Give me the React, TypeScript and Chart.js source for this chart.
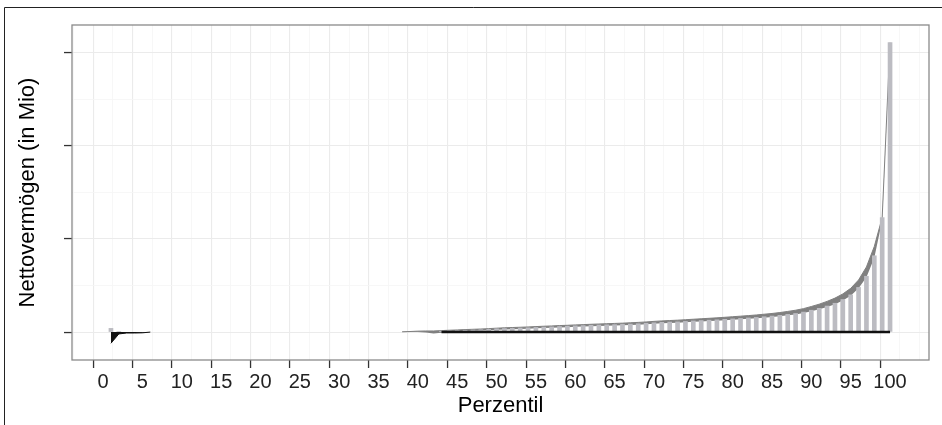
import React, { useEffect, useRef } from 'react';
import { Chart, registerables } from 'chart.js';

Chart.register(...registerables);

// ---- axis ticks ----
const xMajorTicks = [0, 5, 10, 15, 20, 25, 30, 35, 40, 45, 50, 55, 60, 65, 70, 75, 80, 85, 90, 95, 100];
const xMinorTicks = [-2.5, 2.5, 7.5, 12.5, 17.5, 22.5, 27.5, 32.5, 37.5, 42.5, 47.5, 52.5, 57.5, 62.5, 67.5, 72.5, 77.5, 82.5, 87.5, 92.5, 97.5, 102.5];
const yMajorTicks = [0, 1, 2, 3];
const yMinorTicks = [0.5, 1.5, 2.5];

// ---- light grey bars (Nettovermögen per Perzentil, in Mio) ----
const barPercentiles = [1, 2,
  43, 44, 45, 46, 47, 48, 49, 50, 51, 52, 53, 54, 55, 56, 57, 58, 59, 60,
  61, 62, 63, 64, 65, 66, 67, 68, 69, 70, 71, 72, 73, 74, 75, 76, 77, 78, 79, 80,
  81, 82, 83, 84, 85, 86, 87, 88, 89, 90, 91, 92, 93, 94, 95, 96, 97, 98, 99, 100];
const barValues = [0.04, 0.005,
  0.01, 0.012, 0.015, 0.02, 0.022, 0.025, 0.03, 0.035, 0.038, 0.04, 0.043, 0.046, 0.05, 0.053, 0.056, 0.06, 0.063, 0.067,
  0.07, 0.073, 0.076, 0.078, 0.08, 0.083, 0.086, 0.09, 0.095, 0.1, 0.105, 0.108, 0.11, 0.115, 0.12, 0.124, 0.128, 0.132, 0.137, 0.142,
  0.147, 0.152, 0.158, 0.165, 0.172, 0.18, 0.19, 0.2, 0.215, 0.235, 0.255, 0.28, 0.31, 0.35, 0.4, 0.48, 0.6, 0.82, 1.23, 3.11];

// ---- dark grey band ----
const bandPercentiles = [38, 39, 40, 41, 42,
  43, 44, 45, 46, 47, 48, 49, 50, 51, 52, 53, 54, 55, 56, 57, 58, 59, 60,
  61, 62, 63, 64, 65, 66, 67, 68, 69, 70, 71, 72, 73, 74, 75, 76, 77, 78, 79, 80,
  81, 82, 83, 84, 85, 86, 87, 88, 89, 90, 91, 92, 93, 94, 95, 96, 97, 98, 99, 100];
const bandLower = [0, 0, 0, -0.005, -0.014,
  -0.006, 0.0, 0.006, 0.011, 0.013, 0.016, 0.02, 0.025, 0.028, 0.03, 0.033, 0.036, 0.04, 0.043, 0.046, 0.05, 0.053, 0.057,
  0.06, 0.063, 0.066, 0.068, 0.07, 0.073, 0.076, 0.08, 0.085, 0.09, 0.095, 0.098, 0.1, 0.105, 0.11, 0.114, 0.118, 0.122, 0.127, 0.132,
  0.137, 0.142, 0.148, 0.155, 0.162, 0.17, 0.18, 0.19, 0.205, 0.225, 0.245, 0.27, 0.3, 0.34, 0.39, 0.47, 0.59, 0.8, 1.2, 3.11];
const bandUpper = [0.003, 0.006, 0.01, 0.012, 0.012,
  0.016, 0.02, 0.023, 0.027, 0.03, 0.033, 0.037, 0.042, 0.046, 0.049, 0.052, 0.055, 0.059, 0.063, 0.066, 0.07, 0.073, 0.077,
  0.08, 0.084, 0.087, 0.09, 0.093, 0.096, 0.1, 0.104, 0.109, 0.115, 0.12, 0.124, 0.128, 0.133, 0.138, 0.143, 0.148, 0.153, 0.159, 0.165,
  0.171, 0.177, 0.184, 0.192, 0.2, 0.21, 0.222, 0.235, 0.252, 0.275, 0.3, 0.33, 0.365, 0.41, 0.47, 0.56, 0.7, 0.92, 1.23, 3.11];

// ---- black series ----
const negPercentiles = [1, 2, 3, 4, 5, 6];
const negValues = [-0.12, -0.02, -0.01, -0.01, -0.008, 0];
const zeroLinePercentiles = [43, 100];
const zeroLineValues = [0, 0];

const FONT = "'Liberation Sans', Arial, Helvetica, sans-serif";

const isXMajor = (c: any) => !!c && !!c.tick && xMajorTicks.includes(c.tick.value);
const isYMajor = (c: any) => !!c && !!c.tick && yMajorTicks.includes(c.tick.value);

const framePlugin = {
  id: 'frame',
  beforeDraw(chart: any) {
    const { ctx, width, height } = chart;
    ctx.save();
    ctx.fillStyle = '#ffffff';
    ctx.fillRect(0, 0, width, height);
    ctx.strokeStyle = '#222222';
    ctx.lineWidth = 1;
    ctx.beginPath();
    ctx.moveTo(4.5, height);
    ctx.lineTo(4.5, 7.5);
    ctx.lineTo(width, 7.5);
    ctx.stroke();
    ctx.restore();
  },
  afterDraw(chart: any) {
    const { ctx, chartArea: a } = chart;
    ctx.save();
    ctx.strokeStyle = '#8a8a8a';
    ctx.lineWidth = 1.3;
    ctx.strokeRect(a.left, a.top, a.right - a.left, a.bottom - a.top);
    ctx.restore();
  },
};

export default function App() {
  const ref = useRef<HTMLCanvasElement>(null);

  useEffect(() => {
    const canvas = ref.current;
    if (!canvas) return;
    const xy = (xs: number[], ys: number[]) => xs.map((x, i) => ({ x, y: ys[i] }));
    const chart = new Chart(canvas, {
      type: 'line',
      data: {
        datasets: [
          {
            type: 'line',
            label: 'zero',
            data: xy(zeroLinePercentiles, zeroLineValues),
            borderColor: '#111111',
            borderWidth: 2.5,
            pointRadius: 0,
            fill: false,
            order: 0,
          },
          {
            type: 'line',
            label: 'neg',
            data: xy(negPercentiles, negValues),
            borderColor: '#111111',
            backgroundColor: '#111111',
            borderWidth: 1,
            pointRadius: 0,
            fill: 'origin',
            order: 0,
          },
          {
            type: 'bar',
            label: 'bars',
            data: xy(barPercentiles, barValues),
            backgroundColor: '#bcbcc2',
            barThickness: 4,
            order: 2,
          },
          {
            type: 'line',
            label: 'bandLower',
            data: xy(bandPercentiles, bandLower),
            borderWidth: 0,
            borderColor: 'rgba(0,0,0,0)',
            pointRadius: 0,
            fill: false,
            order: 3,
          },
          {
            type: 'line',
            label: 'bandUpper',
            data: xy(bandPercentiles, bandUpper),
            borderColor: '#808080',
            backgroundColor: '#808080',
            borderWidth: 1,
            pointRadius: 0,
            fill: '-1',
            order: 3,
          },
        ] as any,
      },
      options: {
        responsive: false,
        animation: false,
        events: [],
        layout: { padding: { left: 4, top: 25, right: 13, bottom: 0 } },
        plugins: {
          legend: { display: false },
          tooltip: { enabled: false },
        },
        scales: {
          x: {
            type: 'linear',
            position: 'bottom',
            min: -3.95,
            max: 104.95,
            offset: false,
            afterBuildTicks: (s: any) => {
              s.ticks = [...xMajorTicks, ...xMinorTicks].sort((a, b) => a - b).map((v) => ({ value: v }));
            },
            afterFit: (s: any) => {
              s.height = 65;
            },
            ticks: {
              autoSkip: false,
              maxRotation: 0,
              padding: 2,
              color: '#222222',
              font: { family: FONT, size: 20 },
              callback: (v: any) => (xMajorTicks.includes(Number(v)) ? String(v) : ''),
            },
            grid: {
              color: (c: any) => (isXMajor(c) ? '#ebebeb' : '#f5f5f5'),
              lineWidth: (c: any) => (isXMajor(c) ? 1.1 : 0.8),
              tickColor: (c: any) => (isXMajor(c) ? '#333333' : 'rgba(0,0,0,0)'),
              tickWidth: 1.3,
              tickLength: 8,
            },
            border: { display: false },
            title: {
              display: true,
              text: 'Perzentil',
              color: '#000000',
              font: { family: FONT, size: 22 },
              padding: { top: 0, bottom: 6 },
            },
          },
          y: {
            type: 'linear',
            min: -0.3,
            max: 3.3,
            afterBuildTicks: (s: any) => {
              s.ticks = [...yMajorTicks, ...yMinorTicks].sort((a, b) => a - b).map((v) => ({ value: v }));
            },
            afterFit: (s: any) => {
              s.width = 68;
            },
            ticks: {
              autoSkip: false,
              callback: () => '',
            },
            grid: {
              color: (c: any) => (isYMajor(c) ? '#ebebeb' : '#f5f5f5'),
              lineWidth: (c: any) => (isYMajor(c) ? 1.1 : 0.8),
              tickColor: (c: any) => (isYMajor(c) ? '#333333' : 'rgba(0,0,0,0)'),
              tickWidth: 1.3,
              tickLength: 8,
            },
            border: { display: false },
            title: {
              display: true,
              text: 'Nettovermögen (in Mio)',
              color: '#000000',
              font: { family: FONT, size: 22 },
              padding: { top: 11, bottom: 0 },
            },
          },
        },
      },
      plugins: [framePlugin],
    } as any);
    return () => chart.destroy();
  }, []);

  return (
    <div style={{ position: 'fixed', left: 0, top: 0, width: 942, height: 425, background: '#fff' }}>
      <canvas ref={ref} width={942} height={425} style={{ width: 942, height: 425, display: 'block' }} />
    </div>
  );
}
